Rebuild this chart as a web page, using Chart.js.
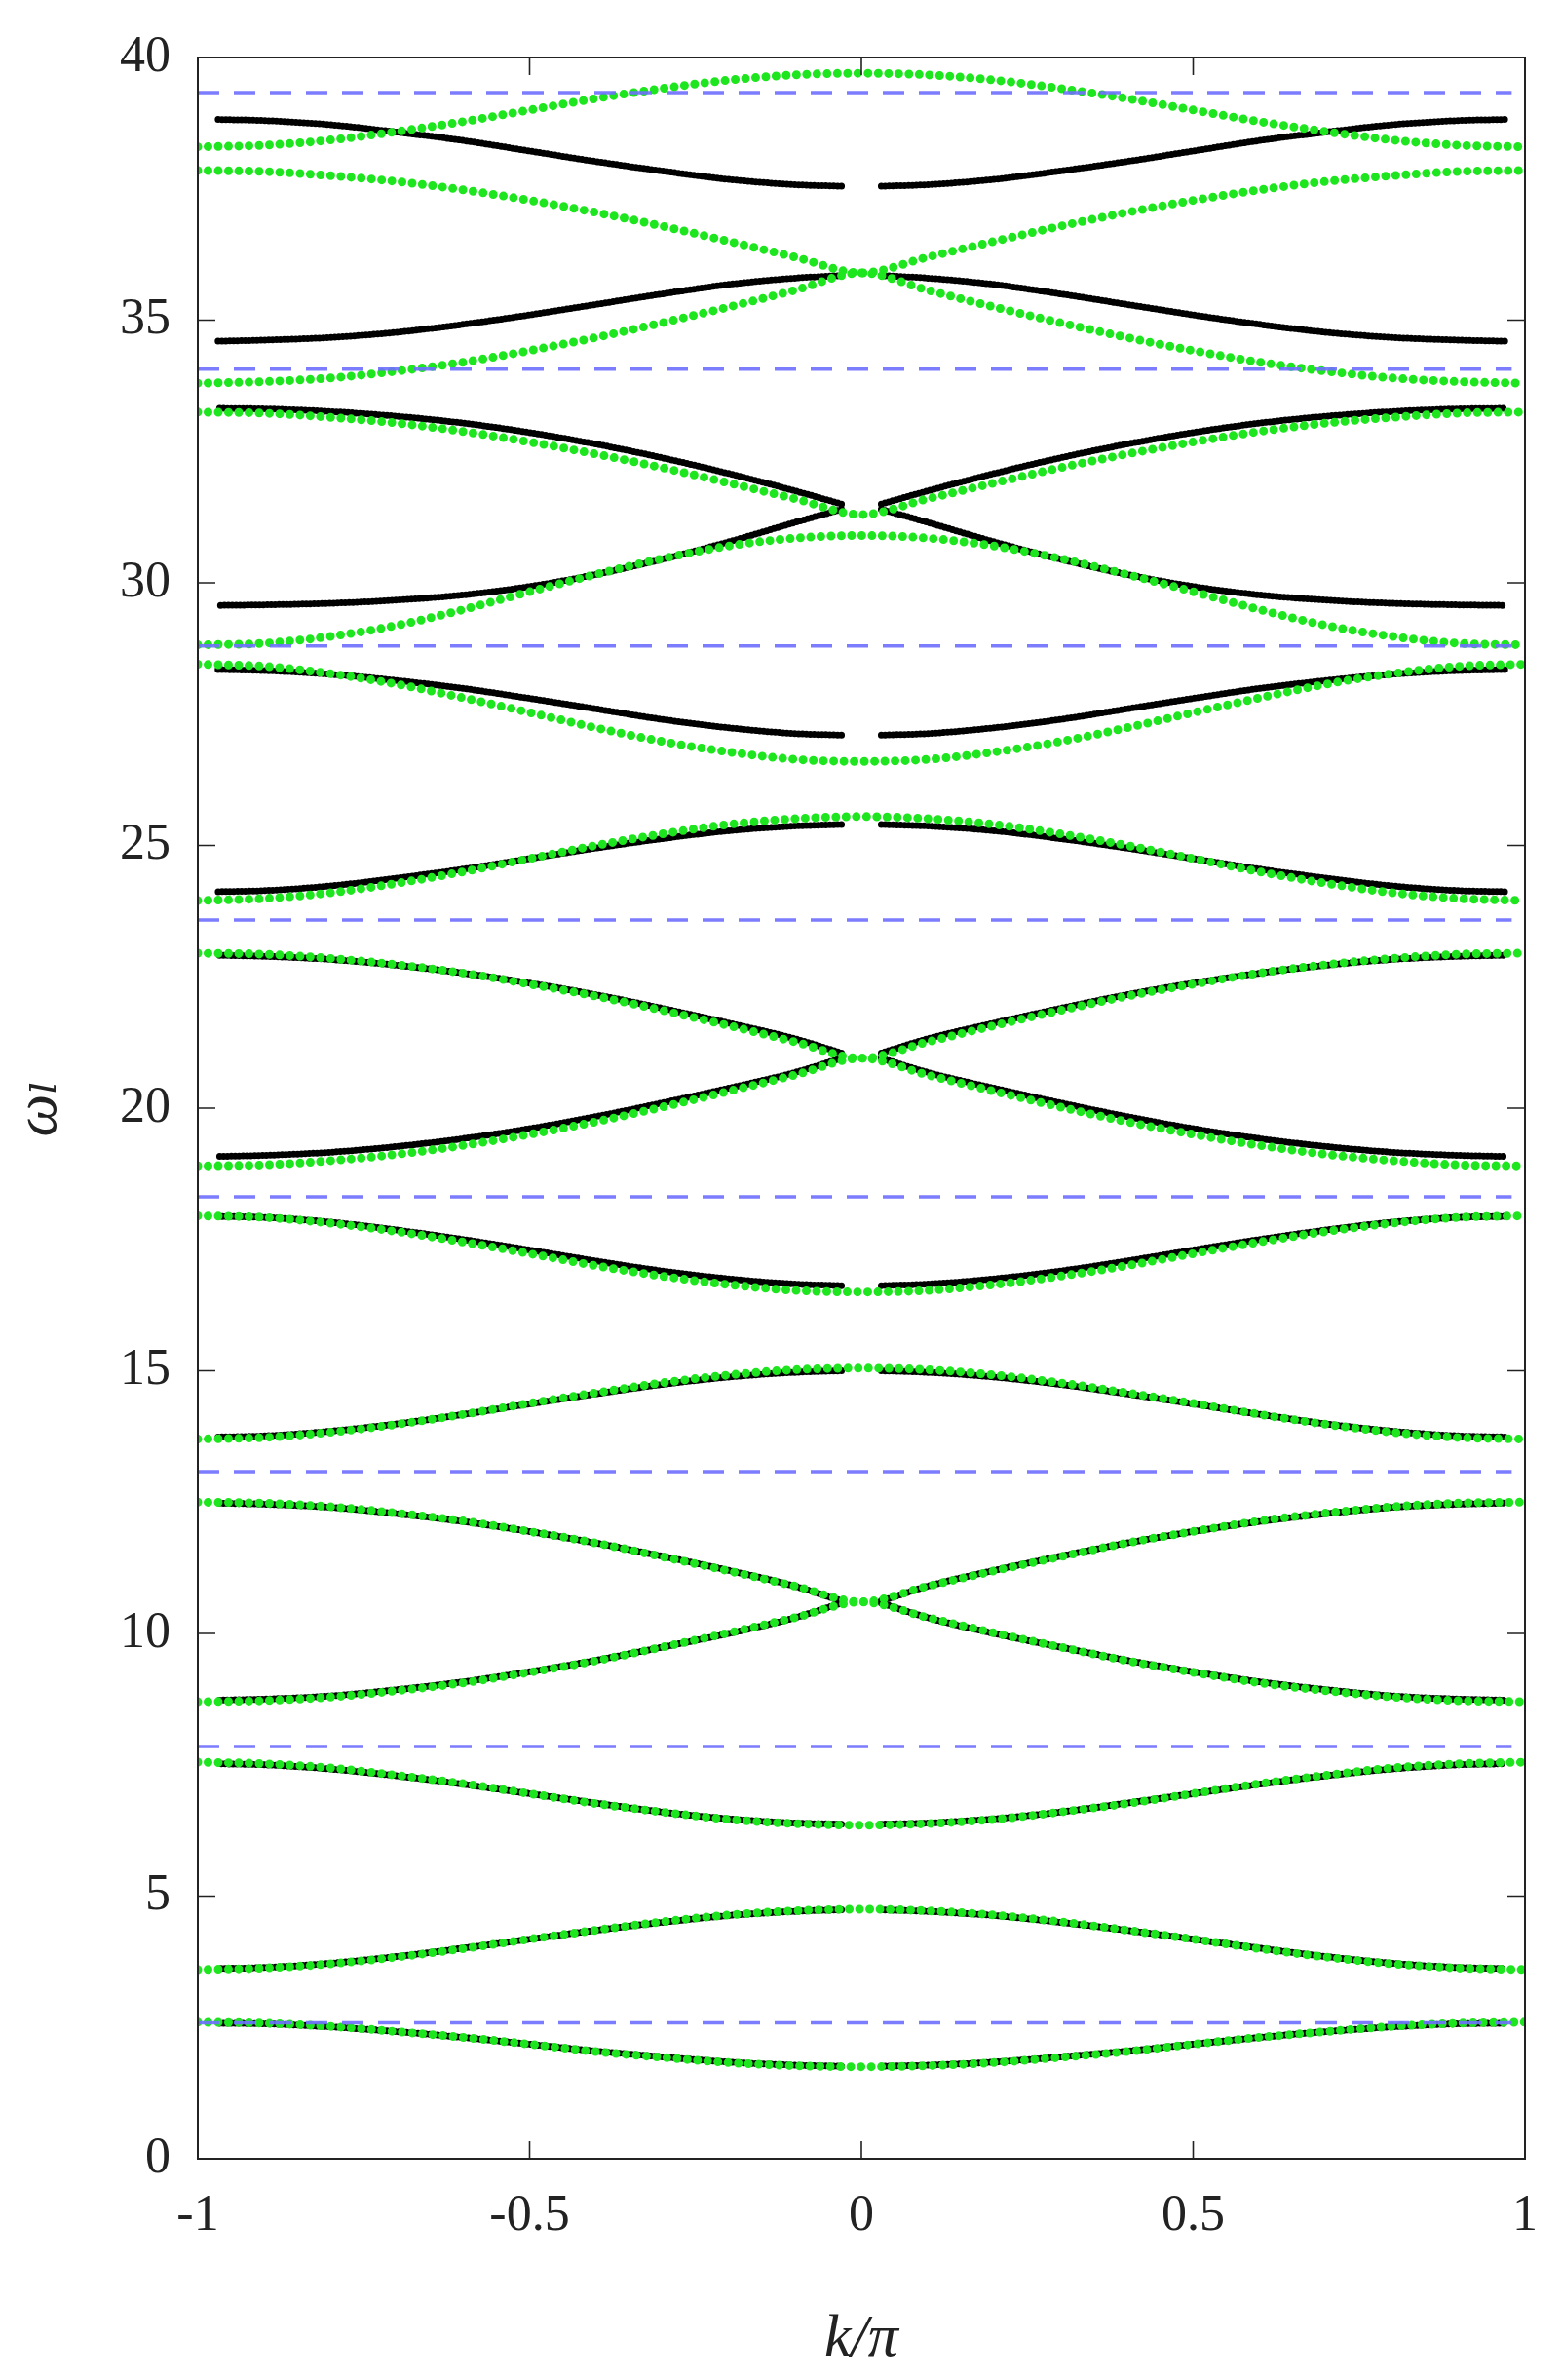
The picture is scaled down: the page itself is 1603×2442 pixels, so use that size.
<!DOCTYPE html>
<html>
<head>
<meta charset="utf-8">
<script src="https://cdn.jsdelivr.net/npm/chart.js@4/dist/chart.umd.min.js"></script>
<style>
  html, body { margin: 0; padding: 0; background: #fff; }
  #wrap { width: 1603px; height: 2442px; }
</style>
</head>
<body>
<div id="wrap"><canvas id="bands"></canvas></div>
<script>
// k grid (half range, mirrored to negative k)
const kGreen = [0, 0.1, 0.2, 0.3, 0.4, 0.5, 0.6, 0.7, 0.8, 0.9, 1];
const kBlack = [0.03, 0.1, 0.2, 0.3, 0.4, 0.5, 0.6, 0.7, 0.8, 0.9, 0.97];

// green bands
const g1 = [1.75, 1.77, 1.83, 1.93, 2.04, 2.18, 2.31, 2.42, 2.52, 2.58, 2.6];
const g2 = [4.75, 4.72, 4.64, 4.51, 4.35, 4.18, 4.0, 3.84, 3.71, 3.63, 3.6];
const g3 = [6.35, 6.38, 6.46, 6.6, 6.76, 6.95, 7.14, 7.3, 7.44, 7.52, 7.55];
const g4a = [10.6, 10.9, 11.19, 11.46, 11.72, 11.94, 12.14, 12.29, 12.41, 12.48, 12.5];
const g4b = [10.6, 10.3, 10.01, 9.74, 9.48, 9.26, 9.06, 8.91, 8.79, 8.72, 8.7];
const g5 = [15.05, 15.02, 14.92, 14.77, 14.58, 14.38, 14.17, 13.98, 13.83, 13.73, 13.7];
const g6 = [16.5, 16.53, 16.64, 16.8, 17.0, 17.23, 17.45, 17.65, 17.81, 17.92, 17.95];
const g7a = [20.95, 21.26, 21.57, 21.86, 22.13, 22.36, 22.57, 22.73, 22.85, 22.93, 22.95];
const g7b = [20.95, 20.63, 20.32, 20.02, 19.74, 19.5, 19.29, 19.12, 19.0, 18.92, 18.9];
const g8 = [25.55, 25.51, 25.4, 25.22, 25.0, 24.75, 24.5, 24.28, 24.1, 23.99, 23.95];
const g9 = [26.6, 26.64, 26.78, 26.98, 27.24, 27.53, 27.81, 28.07, 28.27, 28.41, 28.45];
const g10a = [31.3, 31.6, 31.9, 32.19, 32.45, 32.68, 32.88, 33.04, 33.15, 33.23, 33.25];
const g10c = [30.9, 30.85, 30.7, 30.46, 30.16, 29.83, 29.49, 29.19, 28.98, 28.85, 28.82];
const g11a = [35.9, 36.2, 36.5, 36.79, 37.05, 37.28, 37.48, 37.64, 37.75, 37.83, 37.85];
const g11b = [35.9, 35.57, 35.25, 34.95, 34.67, 34.42, 34.2, 34.03, 33.9, 33.83, 33.8];
const g12 = [39.7, 39.67, 39.57, 39.41, 39.22, 39.0, 38.78, 38.59, 38.43, 38.33, 38.3];

// black bands
const b1 = [1.76, 1.78, 1.84, 1.94, 2.05, 2.18, 2.31, 2.42, 2.51, 2.57, 2.58];
const b2 = [4.74, 4.71, 4.63, 4.5, 4.35, 4.18, 4.01, 3.85, 3.72, 3.64, 3.62];
const b3 = [6.37, 6.39, 6.47, 6.6, 6.77, 6.95, 7.13, 7.29, 7.42, 7.5, 7.52];
const b4a = [10.62, 10.9, 11.2, 11.47, 11.72, 11.94, 12.13, 12.28, 12.4, 12.46, 12.48];
const b4b = [10.58, 10.3, 10.0, 9.74, 9.49, 9.27, 9.08, 8.93, 8.81, 8.75, 8.73];
const b5 = [15.0, 14.97, 14.88, 14.74, 14.56, 14.37, 14.17, 13.99, 13.85, 13.76, 13.74];
const b6 = [16.62, 16.65, 16.75, 16.9, 17.09, 17.3, 17.5, 17.68, 17.83, 17.92, 17.94];
const b7a = [21.05, 21.32, 21.62, 21.9, 22.16, 22.38, 22.57, 22.72, 22.83, 22.89, 22.91];
const b7b = [20.95, 20.68, 20.38, 20.1, 19.84, 19.61, 19.42, 19.27, 19.16, 19.1, 19.08];
const b8 = [25.4, 25.37, 25.28, 25.13, 24.95, 24.75, 24.55, 24.38, 24.23, 24.14, 24.12];
const b9 = [27.1, 27.13, 27.24, 27.4, 27.6, 27.8, 27.99, 28.14, 28.26, 28.33, 28.35];
const b10a = [31.5, 31.75, 32.08, 32.38, 32.64, 32.86, 33.04, 33.17, 33.26, 33.31, 33.32];
const b10b = [31.4, 31.15, 30.78, 30.45, 30.16, 29.93, 29.77, 29.67, 29.61, 29.58, 29.57];
const b11a = [35.85, 35.8, 35.68, 35.5, 35.3, 35.1, 34.92, 34.77, 34.67, 34.62, 34.6];
const b11b = [37.55, 37.58, 37.68, 37.84, 38.02, 38.22, 38.42, 38.58, 38.72, 38.8, 38.82];

// dashed reference levels
const levels = [2.59, 7.85, 13.08, 18.31, 23.58, 28.8, 34.07, 39.33];

const greenBands = [g1, g2, g3, g4a, g4b, g5, g6, g7a, g7b, g8, g9, g10a, g10c, g11a, g11b, g12];
const blackBands = [b1, b2, b3, b4a, b4b, b5, b6, b7a, b7b, b8, b9, b10a, b10b, b11a, b11b];

const datasets = [];

levels.forEach((y) => {
  datasets.push({
    data: [{ x: -1, y: y }, { x: 0.98, y: y }],
    showLine: true, pointRadius: 0,
    borderColor: "rgba(110, 110, 255, 0.9)", borderWidth: 3.5,
    borderDash: [22, 15],
  });
});

// green: whole curve -1..1
greenBands.forEach((vals) => {
  const pts = [];
  for (let i = kGreen.length - 1; i > 0; i--) pts.push({ x: -kGreen[i], y: vals[i] });
  kGreen.forEach((k, i) => pts.push({ x: k, y: vals[i] }));
  datasets.push({
    data: pts, showLine: true, pointRadius: 0,
    cubicInterpolationMode: "monotone",
    borderColor: "#1ee61e", borderWidth: 9,
    borderCapStyle: "round", borderDash: [0, 10.5],
  });
});

// black: two halves (small gap at k=0)
blackBands.forEach((vals) => {
  [-1, 1].forEach((side) => {
    const pts = kBlack.map((k, i) => ({ x: side * k, y: vals[i] }));
    datasets.push({
      data: pts, showLine: true, pointRadius: 0,
      cubicInterpolationMode: "monotone",
      borderColor: "#000", borderWidth: 7,
      borderCapStyle: "round", borderDash: [0, 4],
    });
  });
});

// inward ticks and box, like the original figure
const frame = {
  id: "frame",
  afterDraw(chart) {
    const { ctx, chartArea: a, scales } = chart;
    ctx.save();
    ctx.strokeStyle = "#222";
    ctx.lineWidth = 1.6;
    const tl = 18;
    ctx.beginPath();
    [-1, -0.5, 0, 0.5, 1].forEach((v) => {
      const x = scales.x.getPixelForValue(v);
      ctx.moveTo(x, a.bottom); ctx.lineTo(x, a.bottom - tl);
      ctx.moveTo(x, a.top); ctx.lineTo(x, a.top + tl);
    });
    for (let v = 0; v <= 40; v += 5) {
      const y = scales.y.getPixelForValue(v);
      ctx.moveTo(a.left, y); ctx.lineTo(a.left + tl, y);
      ctx.moveTo(a.right, y); ctx.lineTo(a.right - tl, y);
    }
    ctx.stroke();
    ctx.lineWidth = 2;
    ctx.strokeRect(a.left, a.top, a.right - a.left, a.bottom - a.top);
    ctx.restore();
  },
};

const serif = "'Liberation Serif', 'DejaVu Serif', serif";

new Chart(document.getElementById("bands"), {
  type: "scatter",
  data: { datasets: datasets },
  plugins: [frame],
  options: {
    responsive: true,
    maintainAspectRatio: false,
    animation: false,
    layout: { padding: { top: 59, right: 38, left: 0, bottom: 0 } },
    plugins: { legend: { display: false }, tooltip: { enabled: false } },
    scales: {
      x: {
        type: "linear", min: -1, max: 1,
        grid: { display: false },
        border: { display: false },
        ticks: {
          stepSize: 0.5, color: "#222", padding: 20,
          font: { family: serif, size: 52 },
          callback: (v) => String(v),
        },
        title: {
          display: true, text: "k/π", color: "#222",
          font: { family: serif, size: 62, style: "italic" },
          padding: { top: -14 },
        },
        afterFit: (s) => { s.height = 2442 - 2215; },
      },
      y: {
        min: 0, max: 40,
        grid: { display: false },
        border: { display: false },
        ticks: {
          stepSize: 5, color: "#222", padding: 20,
          font: { family: serif, size: 52 },
        },
        title: {
          display: true, text: "ωₗ", color: "#222",
          font: { family: serif, size: 62, style: "italic" },
          padding: { bottom: 6 },
        },
        afterFit: (s) => { s.width = 203; },
      },
    },
  },
});
</script>
</body>
</html>
